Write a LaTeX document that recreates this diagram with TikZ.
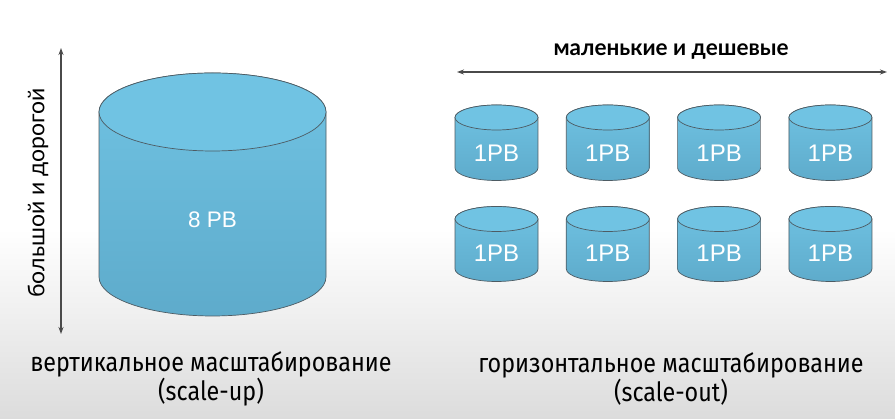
\documentclass[tikz,border=0pt]{standalone}
\usepackage{fontspec}
\setmainfont{Liberation Sans}
\newfontfamily\latofont{Lato}
\newfontfamily\narrowfont[FakeStretch=0.88]{Fira Sans}
\usepackage{tikz}
\usetikzlibrary{arrows.meta}

\definecolor{disktop}{HTML}{70C3E3}
\definecolor{diskbot}{HTML}{5EABCB}
\definecolor{diskline}{HTML}{4D5B63}
\definecolor{arrowgray}{HTML}{4A4A4A}
\definecolor{bgbot}{HTML}{DCDCDC}

% body and top face of one storage drum: cx, ytop, ybot, rx, ry
\newcommand{\drum}[5]{%
\draw[drumbody] (#1-#4,#2) -- (#1-#4,#3) arc[start angle=180,end angle=360,x radius=#4,y radius=#5] -- (#1+#4,#2) arc[start angle=0,end angle=180,x radius=#4,y radius=#5] -- cycle;
\draw[drumface] (#1,#2) ellipse [x radius=#4,y radius=#5];
}

\begin{document}
\begin{tikzpicture}[x=1pt,y=1pt,drumbody/.style={draw=diskline,line width=0.7pt,top color=disktop,bottom color=diskbot},drumface/.style={draw=diskline,line width=0.7pt,fill=disktop},pb/.style={text=white,font=\fontsize{24}{27}\selectfont},span/.style={draw=arrowgray,line width=1.3pt,{Stealth[length=7pt,width=5pt]}-{Stealth[length=7pt,width=5pt]}},caption/.style={align=center,font=\narrowfont\fontsize{26.5}{28}\selectfont}]
\def\dx{111.3};
\def\rxs{41.5};
\def\rys{12.5};

\useasboundingbox (0,0) rectangle (895,419);
\fill[white] (0,0) rectangle (895,419);
\shade[top color=white,bottom color=bgbot] (0,0) rectangle (895,190);

% big drum
\drum{212.5}{307}{142}{113.5}{39}
\node[pb,font=\fontsize{22.5}{25}\selectfont] (big) at (212.5,199) {8 PB};

% small drums, upper row
\drum{496.5}{301.5}{251}{\rxs}{\rys}
\node[pb] (s11) at (496.5,266) {1PB};
\drum{496.5+\dx}{301.5}{251}{\rxs}{\rys}
\node[pb] (s12) at (496.5+\dx,266) {1PB};
\drum{496.5+2*\dx}{301.5}{251}{\rxs}{\rys}
\node[pb] (s13) at (496.5+2*\dx,266) {1PB};
\drum{496.5+3*\dx}{301.5}{251}{\rxs}{\rys}
\node[pb] (s14) at (496.5+3*\dx,266) {1PB};

% small drums, lower row
\drum{496.5}{200}{150}{\rxs}{\rys}
\node[pb] (s21) at (496.5,166) {1PB};
\drum{496.5+\dx}{200}{150}{\rxs}{\rys}
\node[pb] (s22) at (496.5+\dx,166) {1PB};
\drum{496.5+2*\dx}{200}{150}{\rxs}{\rys}
\node[pb] (s23) at (496.5+2*\dx,166) {1PB};
\drum{496.5+3*\dx}{200}{150}{\rxs}{\rys}
\node[pb] (s24) at (496.5+3*\dx,166) {1PB};

% arrows
\coordinate (vtop) at (61,371);
\coordinate (vbot) at (61,85);
\draw[span] (vbot) -- (vtop);
\node[rotate=90,font=\latofont\fontsize{23}{26}\selectfont] (costly) at (38,226) {большой и дорогой};

\coordinate (hleft) at (457,347);
\coordinate (hright) at (887,347);
\draw[span] (hleft) -- (hright);
\node[font=\latofont\bfseries\fontsize{22.5}{26}\selectfont] (cheap) at (671,367) {маленькие и дешевые};

% captions
\node[caption] (up) at (211,40) {вертикальное масштабирование\\(scale-up)};
\node[caption] (out) at (671,40) {горизонтальное масштабирование\\(scale-out)};
\end{tikzpicture}
\end{document}
